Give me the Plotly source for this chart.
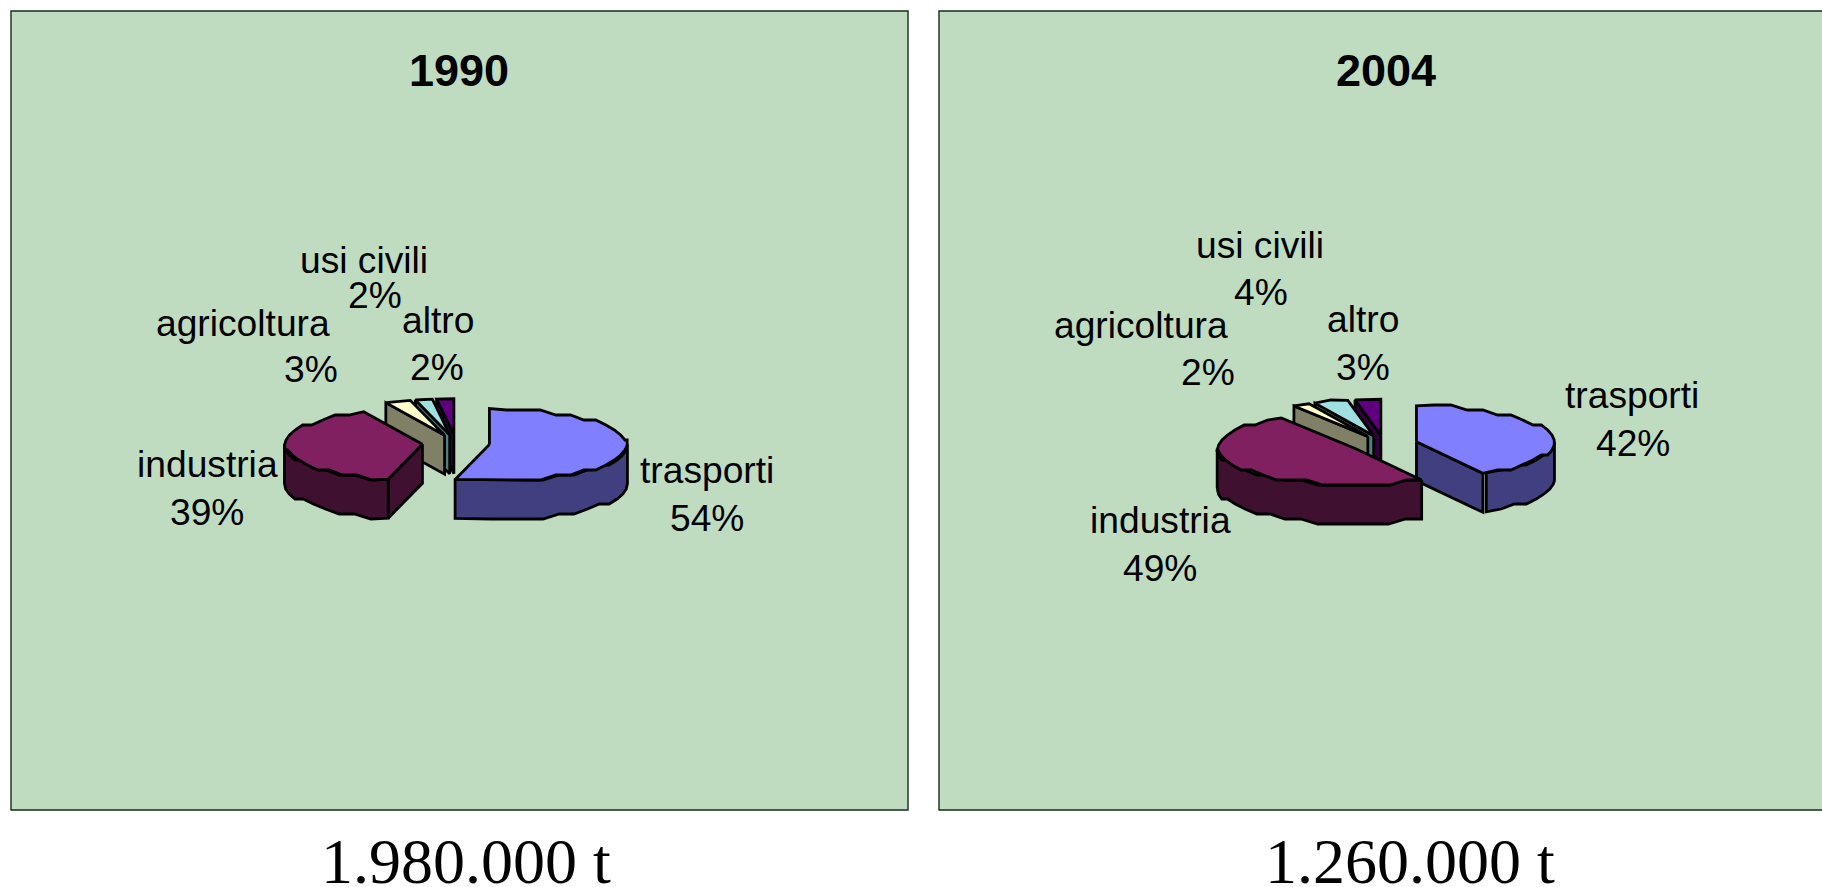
import numpy as np
import plotly.graph_objects as go

# Data
categories = ["trasporti", "industria", "agricoltura", "usi civili", "altro"]
values_1990 = [54, 39, 3, 2, 2]
values_2004 = [42, 49, 2, 4, 3]
years = ["1990", "2004"]
totals = ["1.980.000 t", "1.260.000 t"]

# Styling
top_colors = ["#8080FF", "#802060", "#FFFFCC", "#A0E0E0", "#600080"]
wall_colors = ["#404080", "#401030", "#808066", "#508080", "#300040"]
PANEL = "#C0DCC0"
RX, RY, DEPTH = 138.0, 36.0, 39.0
GRID = 5.0  # coarse plotter grid that gives the rims their stepped look
STEP = 7.0  # rim sampling step in degrees

# Layout of the two panels: border box, pie centre, explode distance
panels = [
    dict(box=(11, 11, 908, 810), centre=(456.0, 443.5), explode=33.7, title_x=458.5, total_x=465.8),
    dict(box=(939, 11, 1860, 810), centre=(1384.0, 444.0), explode=33.5, title_x=1386, total_x=1409.5),
]
# Label anchors per category: (name x, name y, percent x, percent y)
label_pos = [
    [(707, 470, 707, 518), (207, 464, 207, 512), (243, 323, 311, 369), (364, 260, 375, 295), (438, 320, 437, 367)],
    [(1632, 395, 1633, 443), (1160, 520, 1160, 568), (1141, 325, 1208, 372), (1260, 245, 1261, 292), (1363, 319, 1363, 367)],
]


def rim(a, b, cx, cy):
    """Points on the elliptical rim between two clockwise angles (degrees from 12 o'clock)."""
    n = max(2, int(abs(b - a) / STEP) + 1)
    t = np.radians(np.linspace(a, b, n))
    x = cx + RX * np.sin(t)
    y = cy - RY * np.cos(t)
    y = np.round(y / GRID) * GRID
    x[0], y[0] = cx + RX * np.sin(t[0]), cy - RY * np.cos(t[0])
    x[-1], y[-1] = cx + RX * np.sin(t[-1]), cy - RY * np.cos(t[-1])
    return x, y


def poly(fig, xs, ys, color):
    fig.add_trace(go.Scatter(
        x=list(xs) + [xs[0]], y=list(ys) + [ys[0]], mode="lines", fill="toself",
        fillcolor=color, line=dict(color="black", width=2.8), hoverinfo="skip", showlegend=False,
    ))


def draw_slice(fig, a, b, cx, cy, top, wall):
    sa, ca = np.sin(np.radians(a)), np.cos(np.radians(a))
    sb, cb = np.sin(np.radians(b)), np.cos(np.radians(b))
    end_wall = sb > 1e-6
    # Flat cut faces that turn toward the viewer
    if sa < -1e-6:
        px, py = cx + RX * sa, cy - RY * ca
        poly(fig, [cx, px, px, cx], [cy, py, py + DEPTH, cy + DEPTH], wall)
    if end_wall:
        px, py = cx + RX * sb, cy - RY * cb
        poly(fig, [cx, px, px, cx], [cy, py, py + DEPTH, cy + DEPTH], wall)
    # Outer wall on the front half of the rim
    lo, hi = max(a, 90), min(b, 270)
    if end_wall and hi == b:
        hi -= 1.6
    if hi > lo:
        x, y = rim(lo, hi, cx, cy)
        poly(fig, list(x) + list(x[::-1]), list(y) + list((y + DEPTH)[::-1]), wall)
    # Top face
    x, y = rim(a, b, cx, cy)
    poly(fig, [cx] + list(x), [cy] + list(y), top)


fig = go.Figure()
annotations = []


def text(x, y, s, size, family="Liberation Sans", bold=False):
    annotations.append(dict(
        x=x, y=y, xref="x", yref="y", text=f"<b>{s}</b>" if bold else s, showarrow=False,
        xanchor="center", yanchor="middle", font=dict(family=family, size=size, color="black"),
    ))


shapes = []
for p, vals, pos, year, total in zip(panels, [values_1990, values_2004], label_pos, years, totals):
    x0, y0, x1, y1 = p["box"]
    shapes.append(dict(type="rect", xref="x", yref="y", x0=x0, y0=y0, x1=x1, y1=y1,
                       fillcolor=PANEL, line=dict(color="#1a2a1a", width=1.4), layer="below"))
    shares = np.array(vals, dtype=float)
    edges = np.concatenate([[0], np.cumsum(shares) / shares.sum() * 360])
    # Back slices first, so the large front slices overlap them
    for i in [4, 3, 2, 0, 1]:
        a, b = edges[i], edges[i + 1]
        mid = np.radians((a + b) / 2)
        cx = p["centre"][0] + p["explode"] * np.sin(mid)
        cy = p["centre"][1] - p["explode"] * (RY / RX) * np.cos(mid)
        draw_slice(fig, a, b, cx, cy, top_colors[i], wall_colors[i])
    for name, v, (nx, ny, vx, vy) in zip(categories, vals, pos):
        text(nx, ny, name, 37.2)
        text(vx, vy, f"{v}%", 37.2)
    text(p["title_x"], 70, year, 45, bold=True)
    text(p["total_x"], 861.5, total, 64, family="Liberation Serif")

fig.update_layout(
    width=1822, height=887, margin=dict(l=0, r=0, t=0, b=0),
    paper_bgcolor="white", plot_bgcolor="white", showlegend=False,
    xaxis=dict(range=[0, 1822], visible=False, fixedrange=True),
    yaxis=dict(range=[887, 0], visible=False, fixedrange=True),
    shapes=shapes, annotations=annotations,
)
fig.write_html("out.html", config={"displayModeBar": False})
